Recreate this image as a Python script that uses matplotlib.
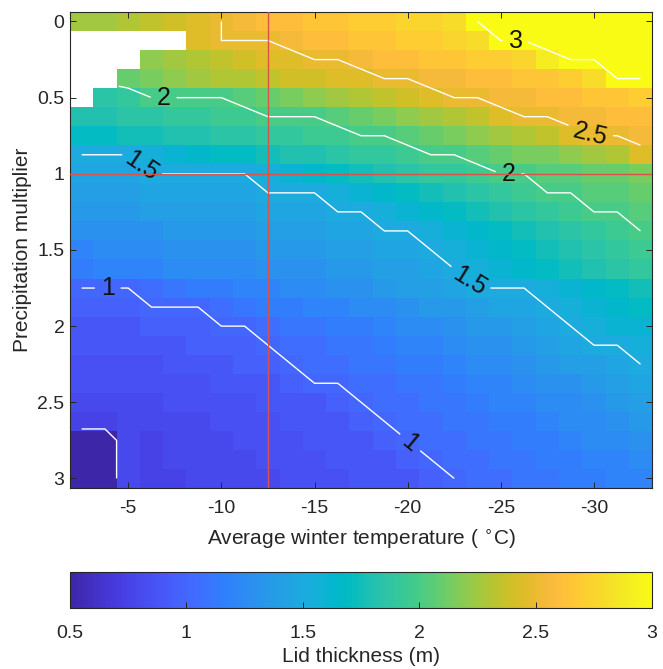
import numpy as np
import matplotlib.pyplot as plt
from matplotlib.colors import LinearSegmentedColormap

plt.rcParams['font.family'] = ['Liberation Sans', 'DejaVu Sans']
plt.rcParams['axes.unicode_minus'] = False

nan = np.nan

# average winter temperature (deg C), cell centres
temperature = [-2.5, -3.75, -5, -6.25, -7.5, -8.75, -10, -11.25, -12.5, -13.75,
               -15, -16.25, -17.5, -18.75, -20, -21.25, -22.5, -23.75, -25,
               -26.25, -27.5, -28.75, -30, -31.25, -32.5]
# precipitation multiplier, cell centres
precip_mult = [0, 0.125, 0.25, 0.375, 0.5, 0.625, 0.75, 0.875, 1, 1.125, 1.25,
               1.375, 1.5, 1.625, 1.75, 1.875, 2, 2.125, 2.25, 2.375, 2.5,
               2.625, 2.75, 2.875, 3]

# lid thickness (m), one row per precipitation multiplier
thickness = [
    [2.25, 2.25, 2.3, 2.35, 2.4, 2.45, 2.5, 2.55, 2.6, 2.6, 2.65, 2.65, 2.7, 2.7, 2.75, 2.75, 2.8, 3.0, 3.0, 3.0, 3.0, 3.0, 3.05, 3.1, 3.15],
    [nan, nan, nan, nan, nan, 2.45, 2.5, 2.5, 2.5, 2.55, 2.6, 2.6, 2.65, 2.65, 2.7, 2.7, 2.75, 2.8, 3.0, 3.0, 3.1, 3.05, 3.05, 3.1, 3.1],
    [nan, nan, nan, 2.2, 2.25, 2.3, 2.35, 2.4, 2.45, 2.45, 2.5, 2.5, 2.55, 2.6, 2.6, 2.65, 2.65, 2.7, 2.7, 2.75, 2.9, 3.0, 3.0, 3.05, 3.1],
    [nan, nan, 2.1, 2.15, 2.2, 2.25, 2.3, 2.3, 2.35, 2.4, 2.4, 2.45, 2.45, 2.5, 2.5, 2.55, 2.55, 2.6, 2.6, 2.65, 2.65, 2.7, 2.8, 3.0, 3.0],
    [nan, 1.85, 1.9, 2.0, 2.0, 2.0, 2.0, 2.05, 2.1, 2.15, 2.2, 2.25, 2.3, 2.35, 2.4, 2.45, 2.5, 2.5, 2.55, 2.55, 2.6, 2.6, 2.65, 2.65, 2.7],
    [1.8, 1.8, 1.85, 1.85, 1.9, 1.9, 1.95, 1.95, 2.0, 2.0, 2.0, 2.05, 2.1, 2.15, 2.2, 2.25, 2.3, 2.35, 2.45, 2.5, 2.5, 2.55, 2.55, 2.6, 2.6],
    [1.7, 1.7, 1.75, 1.75, 1.8, 1.8, 1.85, 1.85, 1.9, 1.9, 1.95, 1.95, 2.0, 2.0, 2.05, 2.1, 2.15, 2.2, 2.25, 2.3, 2.35, 2.45, 2.5, 2.5, 2.55],
    [1.5, 1.5, 1.5, 1.55, 1.6, 1.65, 1.7, 1.7, 1.75, 1.8, 1.8, 1.85, 1.9, 1.9, 1.95, 2.0, 2.0, 2.05, 2.1, 2.15, 2.15, 2.2, 2.25, 2.3, 2.45],
    [1.45, 1.45, 1.45, 1.5, 1.5, 1.5, 1.5, 1.5, 1.55, 1.6, 1.65, 1.7, 1.75, 1.8, 1.85, 1.9, 1.9, 1.95, 2.0, 2.0, 2.05, 2.05, 2.1, 2.1, 2.15],
    [1.4, 1.4, 1.4, 1.45, 1.45, 1.45, 1.45, 1.45, 1.5, 1.5, 1.5, 1.55, 1.6, 1.65, 1.7, 1.75, 1.8, 1.85, 1.9, 1.95, 2.0, 2.0, 2.05, 2.05, 2.1],
    [1.35, 1.35, 1.35, 1.4, 1.4, 1.4, 1.4, 1.4, 1.45, 1.45, 1.45, 1.5, 1.5, 1.55, 1.6, 1.65, 1.7, 1.75, 1.8, 1.85, 1.9, 1.95, 2.0, 2.0, 2.05],
    [1.3, 1.3, 1.3, 1.3, 1.35, 1.35, 1.35, 1.35, 1.4, 1.4, 1.4, 1.45, 1.45, 1.5, 1.5, 1.55, 1.6, 1.65, 1.7, 1.75, 1.8, 1.85, 1.9, 1.95, 2.0],
    [1.2, 1.25, 1.25, 1.25, 1.3, 1.3, 1.3, 1.3, 1.35, 1.35, 1.35, 1.4, 1.4, 1.45, 1.45, 1.5, 1.55, 1.6, 1.65, 1.7, 1.75, 1.8, 1.85, 1.9, 1.95],
    [1.15, 1.2, 1.2, 1.2, 1.25, 1.25, 1.25, 1.25, 1.3, 1.3, 1.3, 1.35, 1.35, 1.4, 1.4, 1.45, 1.5, 1.55, 1.6, 1.65, 1.7, 1.75, 1.8, 1.85, 1.9],
    [1.0, 1.0, 1.0, 1.05, 1.1, 1.15, 1.15, 1.2, 1.2, 1.25, 1.25, 1.3, 1.3, 1.35, 1.4, 1.4, 1.45, 1.5, 1.5, 1.5, 1.55, 1.6, 1.65, 1.7, 1.75],
    [0.95, 0.95, 0.95, 1.0, 1.0, 1.0, 1.05, 1.1, 1.15, 1.15, 1.2, 1.2, 1.25, 1.25, 1.3, 1.35, 1.35, 1.4, 1.45, 1.45, 1.5, 1.55, 1.6, 1.65, 1.7],
    [0.9, 0.9, 0.9, 0.95, 0.95, 0.95, 1.0, 1.0, 1.05, 1.1, 1.1, 1.15, 1.15, 1.2, 1.25, 1.25, 1.3, 1.35, 1.35, 1.4, 1.45, 1.5, 1.55, 1.6, 1.6],
    [0.9, 0.9, 0.9, 0.9, 0.9, 0.95, 0.95, 0.95, 1.0, 1.05, 1.05, 1.1, 1.1, 1.15, 1.2, 1.2, 1.25, 1.3, 1.3, 1.35, 1.4, 1.45, 1.5, 1.5, 1.55],
    [0.85, 0.85, 0.85, 0.85, 0.9, 0.9, 0.9, 0.95, 0.95, 1.0, 1.05, 1.05, 1.1, 1.1, 1.15, 1.15, 1.2, 1.25, 1.25, 1.3, 1.35, 1.4, 1.4, 1.45, 1.5],
    [0.85, 0.85, 0.85, 0.85, 0.85, 0.85, 0.9, 0.9, 0.9, 0.95, 1.0, 1.0, 1.05, 1.05, 1.1, 1.1, 1.15, 1.2, 1.2, 1.25, 1.3, 1.3, 1.35, 1.4, 1.45],
    [0.8, 0.8, 0.8, 0.8, 0.85, 0.85, 0.85, 0.85, 0.9, 0.9, 0.9, 0.95, 1.0, 1.05, 1.05, 1.1, 1.1, 1.15, 1.2, 1.2, 1.25, 1.25, 1.3, 1.35, 1.4],
    [0.75, 0.75, 0.8, 0.8, 0.8, 0.8, 0.85, 0.85, 0.85, 0.9, 0.9, 0.9, 0.95, 1.0, 1.05, 1.05, 1.1, 1.1, 1.15, 1.15, 1.2, 1.25, 1.25, 1.3, 1.35],
    [0.5, 0.5, 0.8, 0.75, 0.8, 0.8, 0.8, 0.85, 0.85, 0.85, 0.9, 0.9, 0.9, 0.95, 1.0, 1.05, 1.05, 1.1, 1.1, 1.15, 1.15, 1.2, 1.25, 1.25, 1.3],
    [0.5, 0.5, 0.8, 0.75, 0.8, 0.8, 0.8, 0.8, 0.85, 0.85, 0.85, 0.9, 0.9, 0.9, 0.95, 1.0, 1.05, 1.05, 1.1, 1.1, 1.15, 1.15, 1.2, 1.2, 1.25],
    [0.5, 0.5, 0.8, 0.75, 0.75, 0.8, 0.8, 0.8, 0.8, 0.85, 0.85, 0.85, 0.9, 0.9, 0.9, 0.95, 1.0, 1.05, 1.05, 1.1, 1.1, 1.15, 1.15, 1.2, 1.2],
]

contour_levels = [1.0, 1.5, 2.0, 2.5, 3.0]
minor_level = [0.65]
# where the contour labels sit (temperature, precip multiplier)
label_spots = [(-6.9, 0.5), (-5.7, 0.95), (-3.9, 1.75), (-25.8, 0.13),
               (-29.9, 0.71), (-25.4, 1.0), (-23.7, 1.65), (-20.1, 2.77)]
ref_temp = -12.5
ref_mult = 1.0

# parula colour map (MATLAB default)
parula_rgb = [
    (0.2422, 0.1504, 0.6603), (0.2504, 0.1650, 0.7076), (0.2578, 0.1818, 0.7511), (0.2647, 0.1978, 0.7952),
    (0.2706, 0.2147, 0.8364), (0.2751, 0.2342, 0.8710), (0.2783, 0.2559, 0.8991), (0.2803, 0.2782, 0.9221),
    (0.2813, 0.3006, 0.9414), (0.2810, 0.3228, 0.9579), (0.2795, 0.3447, 0.9717), (0.2760, 0.3667, 0.9829),
    (0.2699, 0.3892, 0.9906), (0.2602, 0.4123, 0.9952), (0.2440, 0.4358, 0.9988), (0.2206, 0.4603, 0.9973),
    (0.1963, 0.4847, 0.9892), (0.1834, 0.5074, 0.9798), (0.1786, 0.5289, 0.9682), (0.1764, 0.5499, 0.9520),
    (0.1687, 0.5703, 0.9359), (0.1540, 0.5902, 0.9218), (0.1460, 0.6091, 0.9079), (0.1380, 0.6276, 0.8973),
    (0.1248, 0.6459, 0.8883), (0.1113, 0.6635, 0.8763), (0.0952, 0.6798, 0.8598), (0.0689, 0.6948, 0.8394),
    (0.0297, 0.7082, 0.8163), (0.0036, 0.7203, 0.7917), (0.0067, 0.7312, 0.7660), (0.0433, 0.7411, 0.7394),
    (0.0964, 0.7500, 0.7120), (0.1408, 0.7584, 0.6842), (0.1717, 0.7670, 0.6554), (0.1938, 0.7758, 0.6251),
    (0.2161, 0.7843, 0.5923), (0.2470, 0.7918, 0.5567), (0.2906, 0.7973, 0.5188), (0.3406, 0.8008, 0.4789),
    (0.3909, 0.8029, 0.4354), (0.4456, 0.8024, 0.3909), (0.5044, 0.7993, 0.3480), (0.5616, 0.7942, 0.3045),
    (0.6174, 0.7876, 0.2612), (0.6720, 0.7793, 0.2227), (0.7242, 0.7698, 0.1910), (0.7738, 0.7598, 0.1646),
    (0.8203, 0.7498, 0.1535), (0.8634, 0.7406, 0.1596), (0.9035, 0.7330, 0.1774), (0.9393, 0.7288, 0.2100),
    (0.9728, 0.7298, 0.2394), (0.9956, 0.7434, 0.2371), (0.9970, 0.7659, 0.2199), (0.9952, 0.7893, 0.2028),
    (0.9892, 0.8136, 0.1885), (0.9786, 0.8386, 0.1766), (0.9676, 0.8639, 0.1643), (0.9610, 0.8890, 0.1537),
    (0.9597, 0.9135, 0.1423), (0.9628, 0.9373, 0.1265), (0.9691, 0.9606, 0.1064), (0.9769, 0.9839, 0.0805),
]
parula = LinearSegmentedColormap.from_list('parula', parula_rgb)

dark = '#262626'
fig = plt.figure(figsize=(6.63, 6.69), dpi=100)
ax = fig.add_axes([0.1056, 0.2706, 0.878, 0.7115])
cax = fig.add_axes([0.1056, 0.0912, 0.878, 0.0538])

Z = np.ma.masked_invalid(np.array(thickness))
mesh = ax.pcolormesh(temperature, precip_mult, Z, cmap=parula, vmin=0.5, vmax=3,
                     shading='nearest')

# levels nudged down a hair so cells equal to a level count as above it
cs = ax.contour(temperature, precip_mult, Z, levels=np.array(contour_levels) - 1e-9,
                colors='white', linewidths=1.0)
ax.contour(temperature, precip_mult, Z, levels=minor_level, colors='white', linewidths=1.0)
ax.clabel(cs, manual=label_spots, inline=True, inline_spacing=6, fontsize=18,
          colors='#111111', fmt=lambda v: f'{round(v, 2):g}')

ax.axvline(ref_temp, color='#d9534a', lw=1.0, zorder=5)
ax.axhline(ref_mult, color='#d9534a', lw=1.0, zorder=5)

ax.set_xlim(-1.875, -33.125)
ax.set_ylim(3.0625, -0.0625)
ax.set_xticks([-5, -10, -15, -20, -25, -30])
ax.set_yticks([0, 0.5, 1, 1.5, 2, 2.5, 3], ['0', '0.5', '1', '1.5', '2', '2.5', '3'])
ax.tick_params(direction='in', top=True, right=True, length=4, width=0.7,
               labelsize=14, colors=dark, labelcolor=dark)
ax.tick_params(axis='x', pad=9)
ax.tick_params(axis='y', pad=4)
for s in ax.spines.values():
    s.set_color(dark)
    s.set_linewidth(0.8)
ax.set_xlabel('Average winter temperature ( $^{\\circ}$C)', fontsize=15, color=dark,
              labelpad=7)
ax.set_ylabel('Precipitation multiplier', fontsize=15, color=dark, labelpad=4)

cb = fig.colorbar(mesh, cax=cax, orientation='horizontal')
cb.set_ticks([0.5, 1, 1.5, 2, 2.5, 3], labels=['0.5', '1', '1.5', '2', '2.5', '3'])
cax.tick_params(direction='in', length=4, width=0.7, labelsize=14, colors=dark, pad=12)
cb.outline.set_edgecolor(dark)
cb.outline.set_linewidth(0.8)
cax.set_xlabel('Lid thickness (m)', fontsize=15, color=dark, labelpad=4)

fig.savefig('out.png', dpi=100)
